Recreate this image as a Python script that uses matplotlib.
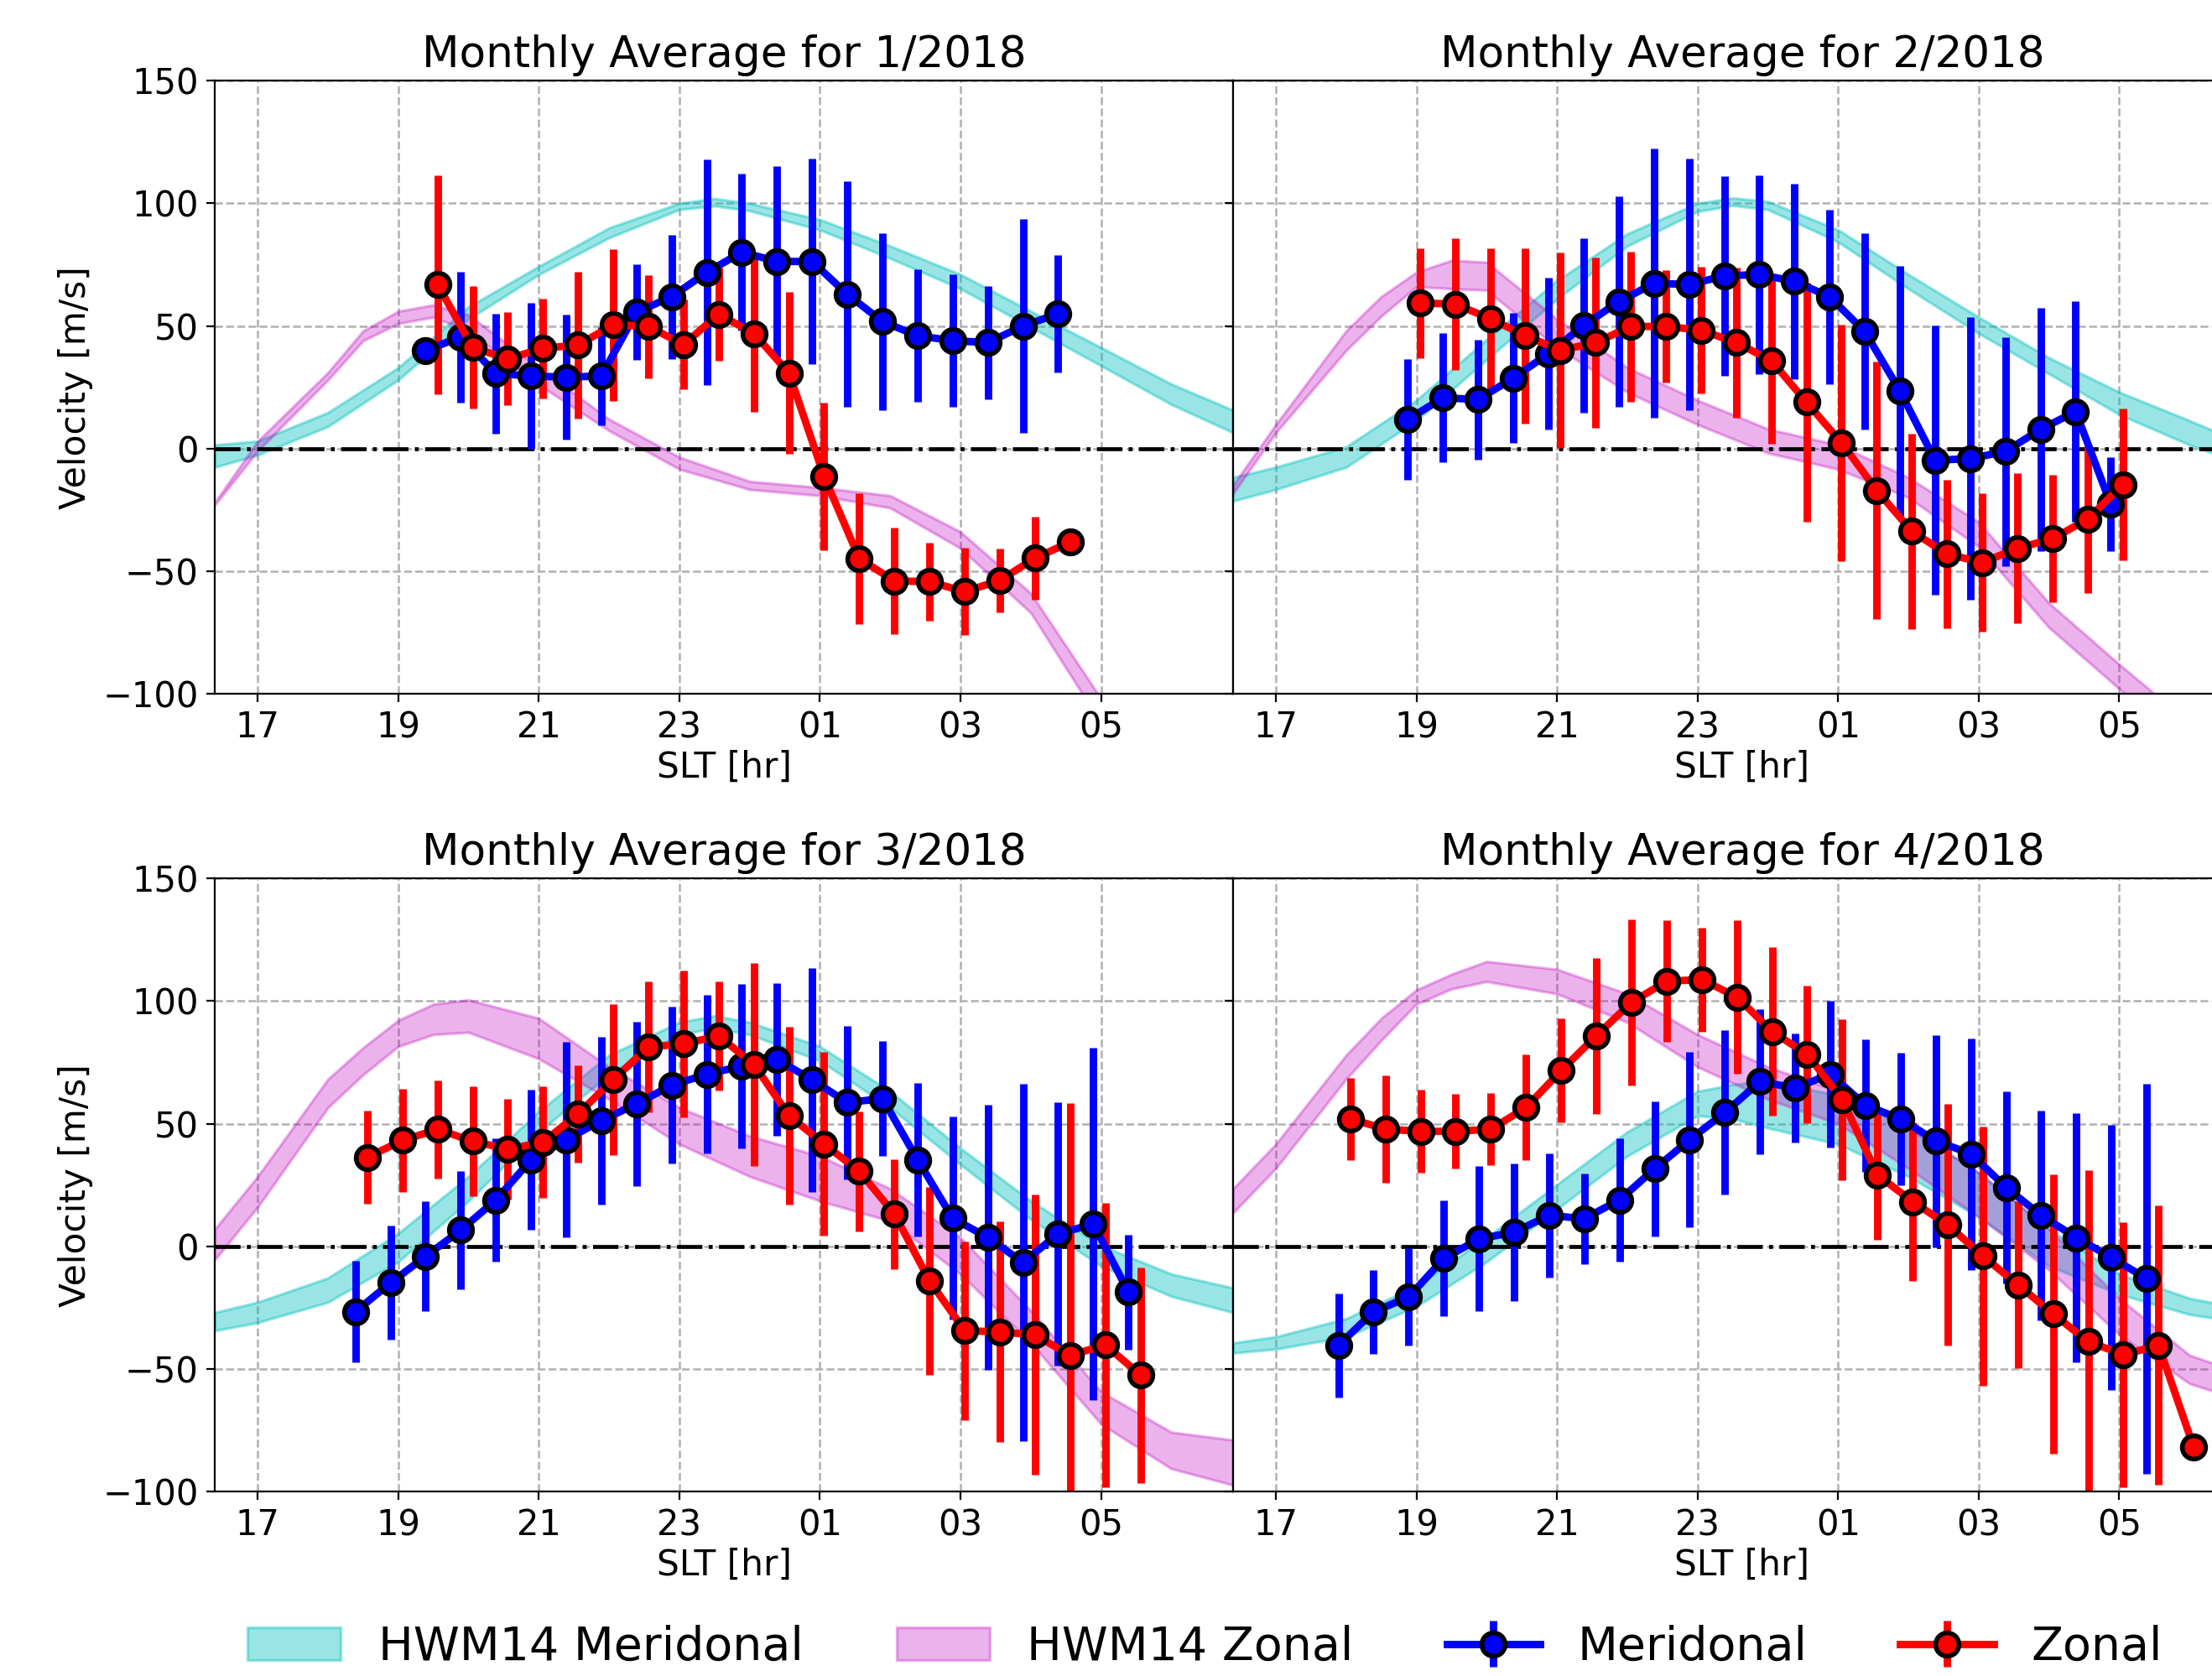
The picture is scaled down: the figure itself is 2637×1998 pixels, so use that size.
import numpy as np
import matplotlib
matplotlib.use("Agg")
import matplotlib.pyplot as plt

plt.rcParams.update({"font.family": "DejaVu Sans", "font.size": 15})

titles = ["Monthly Average for 1/2018", "Monthly Average for 2/2018",
          "Monthly Average for 3/2018", "Monthly Average for 4/2018"]
xtick_pos = [17, 19, 21, 23, 25, 27, 29]
xtick_lab = ["17", "19", "21", "23", "01", "03", "05"]

# first meridional bin time for each month (hours, 24+ = after midnight)
mer_start = [19.39, 18.88, 18.39, 17.89]
zon_shift = 0.17

# ---- measured winds: January
jan_mer = [40.1, 45.4, 30.6, 29.6, 29.1, 29.6, 55.6, 61.9, 71.9, 80.1, 76.3, 76.3,
           62.9, 51.8, 46.0, 44.0, 43.2, 50.0, 55.0]
jan_mer_err = [0, 26.6, 24.4, 29.7, 25.5, 20, 19.5, 25.3, 46, 32, 39, 42, 46, 36,
               27, 27, 23, 43.5, 24]
jan_zon = [66.9, 41.2, 36.6, 40.9, 42.2, 50.5, 49.8, 42.4, 54.8, 46.9, 30.8, -11.4,
           -44.9, -54.0, -54.3, -58.4, -53.8, -44.7, -38.2]
jan_zon_err = [44.7, 25, 19, 20.4, 30, 31, 21, 18.3, 19, 32, 33, 30, 26.6, 21.6,
               16, 17.8, 13, 17, 4.5]

# ---- February
feb_mer = [11.9, 20.7, 20.0, 28.8, 38.7, 50.2, 59.9, 67.4, 66.9, 70.4, 71.0, 68.2,
           61.9, 47.7, 23.5, -4.8, -4.1, -1.2, 7.8, 15.1, -22.8]
feb_mer_err = [24.7, 26.3, 24.5, 26.6, 31, 35.7, 43, 55, 51.4, 40.6, 40.5, 39.8,
               35.6, 40, 51, 55, 57.7, 46.7, 49.7, 45, 19.2]
feb_zon = [59.4, 58.9, 53.0, 46.0, 40.1, 43.2, 49.8, 49.8, 48.3, 43.2, 35.9, 18.9,
           2.3, -17.1, -33.8, -43.0, -46.5, -40.7, -36.8, -28.8, -14.7]
feb_zon_err = [22.4, 27, 28.8, 35.7, 39.7, 34.8, 30.6, 23, 25.7, 30.5, 34, 48.8,
               48.4, 52.5, 40, 30.4, 28.2, 30.6, 26, 30, 31]

# ---- March
mar_mer = [-26.7, -14.9, -4.1, 6.6, 18.9, 35.3, 43.5, 51.3, 58.1, 65.7, 70.2, 73.5,
           76.2, 67.9, 58.6, 60.3, 35.3, 11.4, 3.6, -6.6, 5.1, 9.1, -18.7]
mar_mer_err = [20.7, 23.3, 22.4, 24, 25.2, 28.6, 39.8, 34.3, 33.4, 32, 32.2, 33.5,
               31, 45.6, 31.3, 23.3, 31.2, 41.4, 54, 73, 53.6, 71.8, 23.4]
mar_zon = [36.3, 43.2, 47.7, 42.9, 39.6, 42.5, 54.0, 68.0, 81.3, 82.6, 85.8, 74.2,
           53.3, 41.7, 30.6, 13.2, -14.1, -34.4, -34.9, -36.1, -44.5, -40.2, -52.5]
mar_zon_err = [19, 21.2, 20.1, 22.3, 20.6, 22.7, 19.8, 30.8, 26.8, 30, 22.4, 41.3,
               36.4, 37.5, 24.5, 22.4, 38.2, 36.5, 45, 57.2, 102.8, 58, 44]

# ---- April
apr_mer = [-40.4, -26.7, -20.7, -5.0, 3.0, 5.8, 12.6, 11.3, 18.9, 31.6, 43.5, 54.6,
           67.2, 64.6, 70.2, 57.5, 52.0, 43.0, 37.7, 24.0, 12.6, 3.5, -4.6, -13.2]
apr_mer_err = [21.2, 17.2, 19.9, 23.6, 29.6, 28, 25.3, 18.5, 25, 27.6, 35.8, 33.5,
               29.7, 22.2, 30, 27, 27, 43.3, 47.2, 39.2, 42.8, 50.7, 54, 79.5]
apr_zon = [52.0, 47.8, 46.9, 46.9, 47.8, 56.6, 71.7, 85.9, 99.5, 108.1, 108.8, 101.7,
           87.6, 78.3, 59.8, 29.1, 18.2, 8.8, -4.0, -15.7, -27.6, -38.9, -44.2, -40.4,
           -82.0]
apr_zon_err = [16.8, 21.9, 17, 15.2, 14.7, 21.6, 21.3, 31.8, 33.8, 24.8, 21.3, 31.2,
               34.3, 28, 33, 26.6, 32.3, 49.4, 53, 34, 57, 70, 54, 57, 0]

# ---- HWM14 model bands (lower / upper), sampled in SLT hours
hwm_t = [16.39, 17, 18, 19, 20, 21, 22, 23, 23.5, 24, 25, 26, 27, 28, 29, 30, 30.88]

jan_hm_lo = [-7.6, -2.6, 9, 28, 52.8, 71, 86, 97.5, 99, 97, 89.2, 77.6, 65.2, 49.5, 33.8, 18, 6.5]
jan_hm_hi = [1.5, 3, 14.7, 33, 57.8, 74.3, 90, 100, 102, 100, 93.4, 82.6, 71, 56, 41.2, 26.3, 15.6]
feb_hm_lo = [-21.4, -16.7, -7.6, 11.4, 36.3, 61, 82.6, 96.7, 99.2, 97.5, 84.3, 65.2, 47, 30.5, 13.9, 1.5, -7.6]
feb_hm_hi = [-11.8, -7.6, 0.7, 19.7, 44.5, 68.5, 87.6, 100, 102.2, 100.8, 89.2, 71, 53.6, 37, 23, 11.4, 0.7]
mar_hm_lo = [-34.4, -31.1, -22.8, -6.3, 18.5, 46.7, 70, 86.4, 89, 86.4, 75.7, 56.6, 33.4, 11, -8, -20.4, -27]
mar_hm_hi = [-27, -22.8, -12.9, 5.3, 28.5, 55, 78, 91.4, 94, 91.4, 81.5, 63.2, 40, 18.5, 0.3, -11.3, -17]
apr_hm_lo = [-43.5, -41.9, -36.9, -24.5, -6.3, 15.2, 36.8, 53.3, 52, 48.3, 41.7, 28.5, 12, -8, -19.5, -27.8, -31.5]
apr_hm_hi = [-39.4, -36.9, -29.5, -16.2, 3.6, 25.2, 46.7, 63.2, 66, 67.4, 61.6, 48.3, 30, 7, -11.3, -21.2, -26]

hwz_t = [16.39, 17, 18, 18.5, 19, 19.5, 20, 21, 22, 23, 24, 25, 26, 27, 28, 29, 30, 30.88]

jan_hz_lo = [-23, -1, 28, 44, 51, 53.6, 48, 26, 7.3, -8.4, -16.7, -19.2, -24.2, -40.7, -67, -112, -150, -185]
jan_hz_hi = [-22, 3, 31, 48, 56, 58.6, 54.5, 33, 12, -3.5, -13.4, -15.9, -19.2, -34, -59, -102, -140, -175]
feb_hz_lo = [-18.4, 6.5, 40, 54, 66, 65.2, 64.6, 41.2, 23, 9.8, -1.8, -8.4, -20, -40, -73, -98, -122, -140]
feb_hz_hi = [-15, 9.8, 48, 62, 71.9, 76.8, 76, 52.8, 33, 19.7, 8, 1.5, -11.8, -30, -63, -88, -112, -130]
mar_hz_lo = [-5.5, 16, 56.6, 70, 81.5, 86.4, 87.3, 76.5, 60, 41.7, 28.5, 18.5, 10.3, -11.3, -39.4, -72.5, -90.7, -97.4]
mar_hz_hi = [7, 28.5, 68.2, 81, 92.2, 98.8, 100.5, 93, 73.2, 56.6, 45, 36.8, 23.5, 3.6, -26.2, -59.3, -75.8, -79]
apr_hz_lo = [13.6, 31.8, 68.2, 84, 98.8, 105, 108, 103, 91.4, 73.2, 60, 50, 31.8, 12, -9.6, -36, -56, -64]
apr_hz_hi = [23.5, 41.7, 78, 93, 104.6, 111, 116.2, 113, 103, 86.4, 73.2, 63.2, 48.3, 30.1, 7, -21.2, -44.4, -53]

months = [
    (jan_mer, jan_mer_err, jan_zon, jan_zon_err, jan_hm_lo, jan_hm_hi, jan_hz_lo, jan_hz_hi),
    (feb_mer, feb_mer_err, feb_zon, feb_zon_err, feb_hm_lo, feb_hm_hi, feb_hz_lo, feb_hz_hi),
    (mar_mer, mar_mer_err, mar_zon, mar_zon_err, mar_hm_lo, mar_hm_hi, mar_hz_lo, mar_hz_hi),
    (apr_mer, apr_mer_err, apr_zon, apr_zon_err, apr_hm_lo, apr_hm_hi, apr_hz_lo, apr_hz_hi),
]

fig = plt.figure(figsize=(13.185, 9.99), dpi=200)
W, H = 0.4604, 0.3657
positions = [(0.0971, 0.5861), (0.5574, 0.5861), (0.0971, 0.1101), (0.5574, 0.1101)]

style = dict(fmt="-o", elinewidth=3.2, lw=3.2, ms=10, mec="k", mew=2.0)

handles = None
for i, (pos, m) in enumerate(zip(positions, months)):
    mer, mer_err, zon, zon_err, hm_lo, hm_hi, hz_lo, hz_hi = m
    ax = fig.add_axes([pos[0], pos[1], W, H])
    t_mer = mer_start[i] + 0.5 * np.arange(len(mer))
    t_zon = mer_start[i] + zon_shift + 0.5 * np.arange(len(zon))

    p1 = ax.fill_between(hwm_t, hm_lo, hm_hi, color="c", alpha=0.4, lw=1.2)
    p2 = ax.fill_between(hwz_t, hz_lo, hz_hi, color="m", alpha=0.3, lw=1.2)
    ax.axhline(0, color="k", ls="-.", lw=1.7)
    e1 = ax.errorbar(t_mer, mer, yerr=mer_err, color="b", ecolor="b", mfc="b", **style)
    e2 = ax.errorbar(t_zon, zon, yerr=zon_err, color="r", ecolor="r", mfc="r", **style)

    ax.set_xlim(16.39, 30.88)
    ax.set_ylim(-100, 150)
    ax.set_yticks([-100, -50, 0, 50, 100, 150])
    ax.set_xticks(xtick_pos)
    ax.set_xticklabels(xtick_lab)
    ax.grid(True, ls="--", color="#b0b0b0", lw=0.9)
    ax.set_axisbelow(True)
    ax.set_title(titles[i], fontsize=18.6)
    ax.set_xlabel("SLT [hr]", fontsize=15.2, labelpad=2)
    if i % 2 == 0:
        ax.set_ylabel("Velocity [m/s]", fontsize=15.2)
    else:
        ax.set_yticklabels([])
    handles = [p1, p2, e1, e2]

fig.legend(handles, ["HWM14 Meridonal", "HWM14 Zonal", "Meridonal", "Zonal"],
           loc="center left", bbox_to_anchor=(0.093, 0.017), ncol=4,
           frameon=False, fontsize=20.0)

fig.savefig("out.png", dpi=200)
